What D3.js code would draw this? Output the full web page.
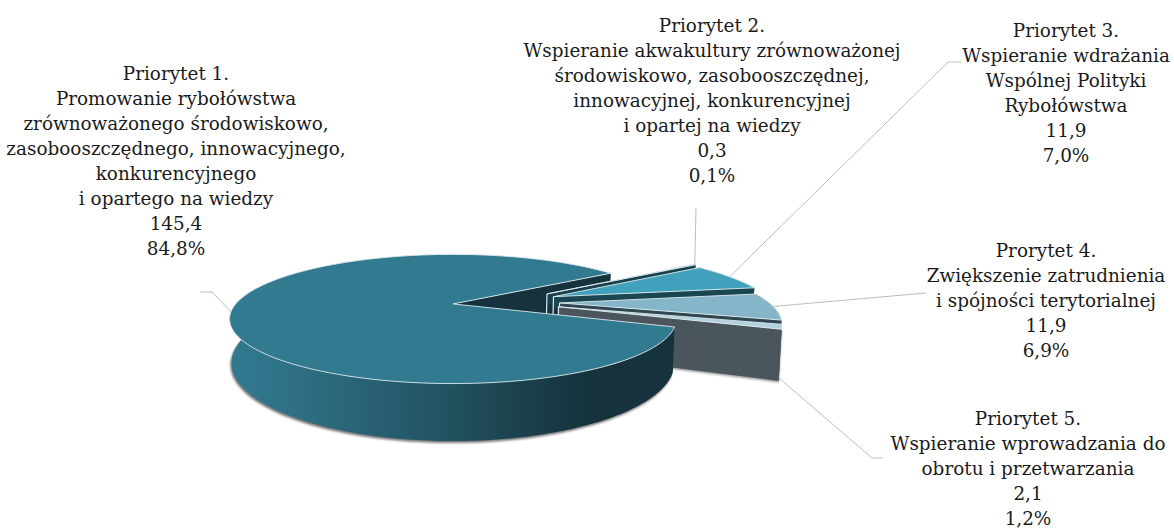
<!DOCTYPE html>
<html lang="pl">
<head>
  <meta charset="UTF-8">
  <title>Priorytety</title>
  <script src="https://d3js.org/d3.v7.min.js"></script>
  <style>
    body { margin: 0; background: #fff; }
    svg { display: block; }
    .label { font-family: "DejaVu Serif", serif; font-size: 18.4px; fill: #1a1a1a; text-anchor: middle; }
    .leader { fill: none; stroke: #bdbdbd; stroke-width: 1px; }
  </style>
</head>
<body>
  <svg></svg>
  <script>
    // data
    const values = [145.4, 0.3, 11.9, 11.9, 2.1];
    const percents = [84.8, 0.1, 7.0, 6.9, 1.2];
    const titles = ["Priorytet 1.", "Priorytet 2.", "Priorytet 3.", "Prorytet 4.", "Priorytet 5."];
    const descriptions = [
      ["Promowanie rybołówstwa", "zrównoważonego środowiskowo,", "zasobooszczędnego, innowacyjnego,", "konkurencyjnego", "i opartego na wiedzy"],
      ["Wspieranie akwakultury zrównoważonej", "środowiskowo, zasobooszczędnej,", "innowacyjnej, konkurencyjnej", "i opartej na wiedzy"],
      ["Wspieranie wdrażania", "Wspólnej Polityki", "Rybołówstwa"],
      ["Zwiększenie zatrudnienia", "i spójności terytorialnej"],
      ["Wspieranie wprowadzania do", "obrotu i przetwarzania"]
    ];

    // colours
    const topColors = ["#317a90", "#1d4c59", "#41a0bb", "#85b5c8", "#b2d2de"];
    const wallColors = ["#16333d", "#16404c", "#1a4652", "#2f4650", "#4b565c"];

    // label layout: centre x, first baseline, elbow points of the leader
    const labelPos = [
      { x: 176, y: 80, leader: [[200, 292], [212, 292]], z: 0 },
      { x: 712, y: 32, leader: [[696, 208]], z: 0 },
      { x: 1066, y: 37, leader: [[961, 62], [948, 62]], z: 0 },
      { x: 1046, y: 257, leader: [[926, 293]], z: 0 },
      { x: 1028, y: 425, leader: [[883, 458], [872, 458]], z: 1.12 }
    ];
    const lineHeight = 25;
    const radii = [0.97, 1.01, 0.985, 0.94, 0.93];
    // how far down each cut face is drawn, the next slice hides the rest
    const wallDrop = [1, 0.3, 0.3, 0.14, 1.12];

    const width = 1174, height = 529;
    const svg = d3.select("svg").attr("width", width).attr("height", height);

    // ground plane -> screen, perspective fitted to the big slice
    const X0 = 453, Y0 = 304, Rx = 224, Ry = 63, persp = 0.24, depth = 41;
    function project(u, v, z) {
      const k = 1 / (1 - persp * v);
      const x = X0 + Rx * u * k;
      const y = Y0 + Ry * v * k;
      return [x - z * (x - X0) * 0.008, y + z * depth * Math.pow(k, 1.28)];
    }

    const cu = 0.238, cv = -0.031, explode = 0.24;
    const deg = Math.PI / 180;

    const arcs = d3.pie().sort(null).startAngle(110.3 * deg).endAngle(110.3 * deg + 2 * Math.PI)(values);
    const slices = arcs.map((d, i) => {
      const a0 = d.startAngle - Math.PI / 2, a1 = d.endAngle - Math.PI / 2, mid = (a0 + a1) / 2;
      return {
        i, a0, a1, mid,
        r: radii[i],
        u: cu + explode * Math.cos(mid),
        v: cv + explode * Math.sin(mid)
      };
    });

    const line = d3.line();
    const rim = (s, a, z) => project(s.u + s.r * Math.cos(a), s.v + s.r * Math.sin(a), z);
    const apex = (s, z) => project(s.u, s.v, z);
    const angles = (a, b) => {
      const n = Math.max(2, Math.ceil(Math.abs(b - a) / (1 * deg)));
      return d3.range(n + 1).map(j => a + (b - a) * j / n);
    };
    const topPath = s => line([apex(s, 0), ...angles(s.a0, s.a1).map(a => rim(s, a, 0))]) + "Z";
    const radialWall = (s, a, z) => line([apex(s, 0), rim(s, a, 0), rim(s, a, z), apex(s, z)]) + "Z";
    const outerWall = (s, a, b, z) => line([
      ...angles(a, b).map(t => rim(s, t, 0)),
      ...angles(b, a).map(t => rim(s, t, z))
    ]) + "Z";

    const defs = svg.append("defs");
    defs.append("filter").attr("id", "soft").attr("x", "-5%").attr("y", "-5%").attr("width", "110%").attr("height", "115%")
      .append("feGaussianBlur").attr("stdDeviation", 1.2);
    const grad = defs.append("linearGradient").attr("id", "wallGrad")
      .attr("gradientUnits", "userSpaceOnUse").attr("x1", 229).attr("x2", 585).attr("y1", 0).attr("y2", 0);
    grad.append("stop").attr("offset", "0%").attr("stop-color", topColors[0]);
    grad.append("stop").attr("offset", "18%").attr("stop-color", "#2e7085");
    grad.append("stop").attr("offset", "60%").attr("stop-color", "#225362");
    grad.append("stop").attr("offset", "100%").attr("stop-color", wallColors[0]);

    // leaders
    slices.forEach(s => {
      const p = labelPos[s.i];
      const end = rim(s, s.mid, p.z);
      svg.append("path").attr("class", "leader").attr("d", line([...p.leader, end]));
    });

    const main = slices[0];
    const frontEnd = 196 * deg;

    // shadow under the bottom of the pie
    svg.append("path").attr("fill", "#777").attr("filter", "url(#soft)")
      .attr("transform", "translate(-1,2)")
      .attr("d", line(angles(main.a0, frontEnd).map(a => rim(main, a, 1))));
    const last = slices[4];
    svg.append("path").attr("fill", "#999").attr("filter", "url(#soft)")
      .attr("transform", "translate(0,1.5)")
      .attr("d", radialWall(last, last.a1, wallDrop[4]));

    // cut face of the big slice sits behind the small ones
    svg.append("path").attr("d", radialWall(main, main.a1, 1)).attr("fill", wallColors[0]);

    const edge = "#dfeaee";
    slices.slice(1).forEach(s => {
      const g = svg.append("g");
      // only the last small slice shows its rounded side
      if (s.a0 > 0) {
        g.append("path").attr("d", outerWall(s, s.a0, s.a1, wallDrop[s.i])).attr("fill", wallColors[s.i]);
      }
      g.append("path").attr("d", radialWall(s, s.a1, wallDrop[s.i])).attr("fill", wallColors[s.i]);
      g.append("path").attr("d", line([apex(s, 0), apex(s, 1)]))
        .attr("stroke", edge).attr("stroke-width", 1.2).attr("fill", "none");
      g.append("path").attr("d", topPath(s)).attr("fill", topColors[s.i])
        .attr("stroke", edge).attr("stroke-width", 0.9);
    });

    // big slice last, it covers the rest
    svg.append("path").attr("d", outerWall(main, main.a0, frontEnd, 1)).attr("fill", "url(#wallGrad)");
    svg.append("path").attr("d", topPath(main)).attr("fill", topColors[0])
      .attr("stroke", edge).attr("stroke-width", 0.9);

    // labels
    const fmt = n => n.toFixed(1).replace(".", ",");
    const labels = svg.append("g");
    titles.forEach((t, i) => {
      const rows = [t, ...descriptions[i], fmt(values[i]), fmt(percents[i]) + "%"];
      labels.selectAll(null).data(rows).enter().append("text")
        .attr("class", "label")
        .attr("x", labelPos[i].x)
        .attr("y", (d, j) => labelPos[i].y + j * lineHeight)
        .text(d => d);
    });
  </script>
</body>
</html>
